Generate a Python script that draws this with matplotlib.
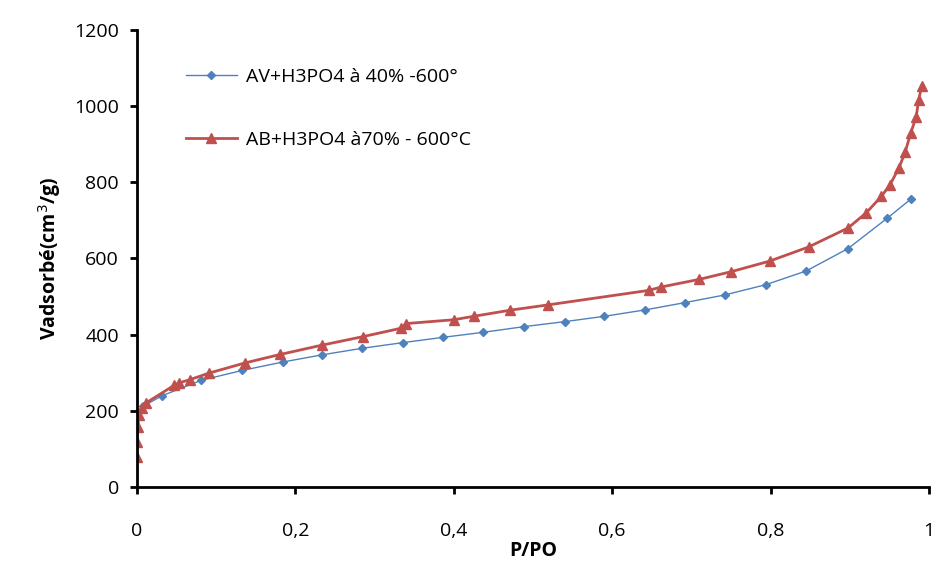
import matplotlib.pyplot as plt

# isotherm data
p_av = [0.008, 0.031, 0.081, 0.133, 0.184, 0.234, 0.284, 0.336, 0.387, 0.437,
        0.489, 0.540, 0.590, 0.642, 0.692, 0.742, 0.794, 0.845, 0.898, 0.947, 0.978]
v_av = [212, 239, 280, 306, 328, 347, 364, 379, 393, 406,
        421, 434, 448, 465, 484, 504, 531, 567, 626, 705, 757]

p_ab = [0.000, 0.000, 0.001, 0.003, 0.006, 0.011, 0.047, 0.053, 0.067, 0.091,
        0.137, 0.181, 0.233, 0.286, 0.334, 0.340, 0.400, 0.425, 0.471, 0.519,
        0.646, 0.662, 0.710, 0.750, 0.799, 0.848, 0.898, 0.921, 0.940, 0.951,
        0.962, 0.970, 0.977, 0.984, 0.987, 0.991]
v_ab = [78, 118, 158, 190, 207, 220, 267, 273, 282, 299,
        326, 348, 372, 395, 417, 429, 439, 448, 464, 478,
        516, 525, 545, 565, 593, 630, 680, 720, 763, 794,
        837, 879, 929, 972, 1016, 1053]

label_av = "AV+H3PO4 à 40% -600°"
label_ab = "AB+H3PO4 à70% - 600°C"
xticks = [0, 0.2, 0.4, 0.6, 0.8, 1]
xticklabels = ["0", "0,2", "0,4", "0,6", "0,8", "1"]
yticks = [0, 200, 400, 600, 800, 1000, 1200]

plt.rcParams['font.family'] = ['Open Sans', 'DejaVu Sans']

fig = plt.figure(figsize=(9.35, 5.63), dpi=100)
ax = fig.add_axes([0.1465, 0.135, 0.847, 0.812])

ax.plot(p_av, v_av, color='#4F81BD', lw=1.0, marker='D', ms=4.5, label=label_av)
ax.plot(p_ab, v_ab, color='#C0504D', lw=2.0, marker='^', ms=6.5, label=label_ab)

ax.set_xlim(0, 1)
ax.set_ylim(0, 1200)
ax.set_xticks(xticks)
ax.set_xticklabels(xticklabels)
ax.set_yticks(yticks)
ax.tick_params(labelsize=14, width=2, length=5, direction='out', pad=8)
ax.tick_params(axis='x', pad=20)

for s in ['top', 'right']:
    ax.spines[s].set_visible(False)
for s in ['left', 'bottom']:
    ax.spines[s].set_linewidth(2)

ax.set_xlabel("P/PO", fontsize=14, fontweight='bold', labelpad=1)
ax.set_ylabel("Vadsorbé(cm$^{3}$/g)", fontsize=14, fontweight='bold', labelpad=8)

ax.legend(loc='upper left', bbox_to_anchor=(0.04, 0.955), frameon=False,
          fontsize=14, labelspacing=2.3, handlelength=2.6, handletextpad=0.5)

fig.savefig('out.png', dpi=100)
